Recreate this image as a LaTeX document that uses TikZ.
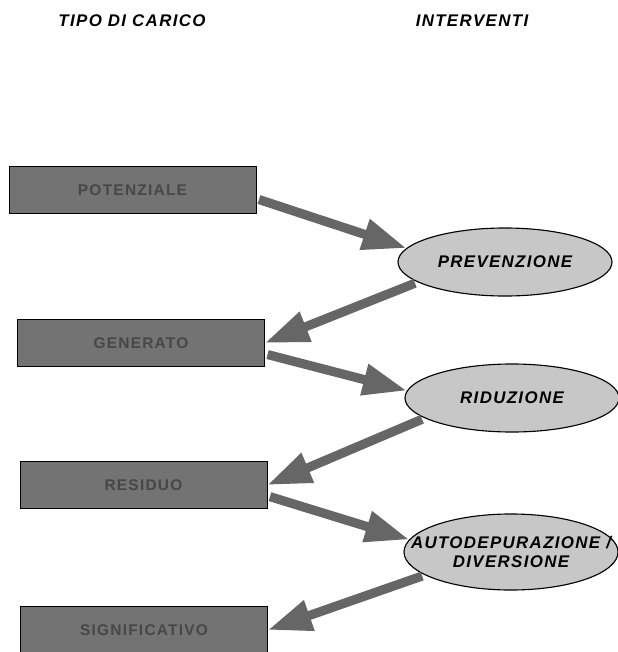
\documentclass[tikz,border=0pt]{standalone}
\usepackage{fontspec}
\newfontfamily\headfont[LetterSpace=8]{Liberation Sans}
\usetikzlibrary{arrows.meta, positioning, shapes.geometric}
\tikzset{
  titolo/.style={
    font=\headfont\bfseries\itshape\fontsize{12}{14}\selectfont,
    text=black
  },
  caricobox/.style={
    draw=black,
    rectangle,
    fill=black!55,
    minimum width=6.175cm,
    minimum height=1.175cm,
    inner sep=0pt,
    text=black!72,
    font=\headfont\bfseries\fontsize{11}{13}\selectfont
  },
  intervento/.style={
    draw=black,
    thick,
    ellipse,
    fill=black!22,
    minimum width=5.35cm,
    minimum height=1.7cm,
    inner xsep=-1cm,
    inner ysep=0pt,
    align=center,
    font=\headfont\bfseries\itshape\fontsize{12}{14}\selectfont
  },
  freccia/.style={
    -{Triangle[length=1.1cm,width=0.75cm]},
    line width=6.5pt,
    draw=black!60,
    shorten <=2pt
  }
}

\begin{document}
\begin{tikzpicture}[x=0.025cm, y=-0.025cm]
\useasboundingbox (0,0) rectangle (618,652);

% --- Titoli ---
\node[titolo] (tipo) at (132,21) {TIPO DI CARICO};
\node[titolo] (interv) at (472,21) {INTERVENTI};

% --- Tipo di carico ---
\node[caricobox] (pot) at (132.5,190) {POTENZIALE};
\node[caricobox] (gen) at (141,343) {GENERATO};
\node[caricobox] (res) at (143.5,485) {RESIDUO};
\node[caricobox] (sig) at (144,630) {SIGNIFICATIVO};

% --- Interventi ---
\node[intervento] (prev) at (505,262) {PREVENZIONE};
\node[intervento] (rid) at (512,398) {RIDUZIONE};
\node[intervento, minimum height=1.9cm] (auto) at (511,552) {AUTODEPURAZIONE /\\DIVERSIONE};

% --- Frecce ---
\draw[freccia] (pot.-4) -- (prev.172);
\draw[freccia] (prev.193) -- (gen.east);
\draw[freccia] (gen.-5) -- (rid.176);
\draw[freccia] (rid.193) -- (res.east);
\draw[freccia] (res.-5) -- (auto.173);
\draw[freccia] (auto.195) -- (sig.east);

\end{tikzpicture}
\end{document}
